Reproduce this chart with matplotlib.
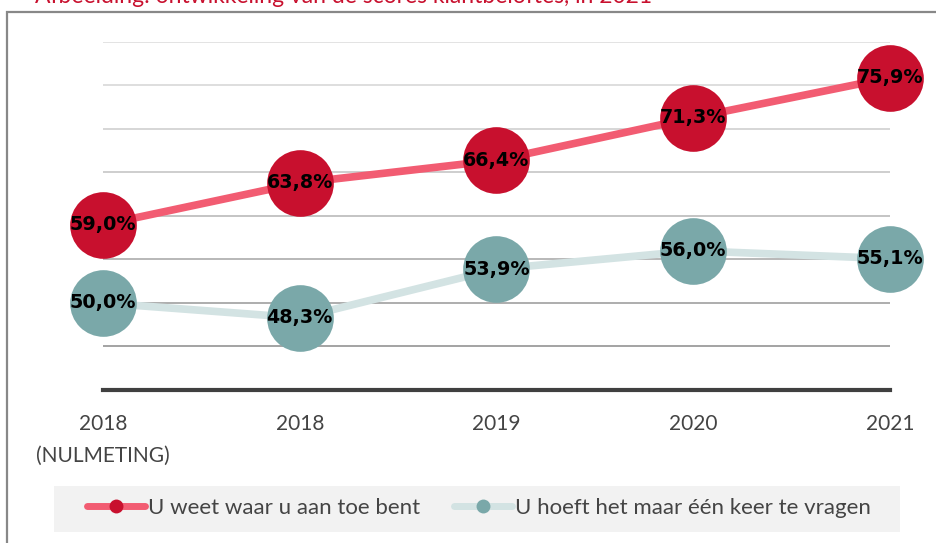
import numpy as np
import matplotlib.pyplot as plt
from matplotlib.patches import Rectangle
from matplotlib.lines import Line2D

# --- gegevens ---
jaren = ["2018\n(NULMETING)", "2018", "2019", "2020", "2021"]
weet_waar = [59.0, 63.8, 66.4, 71.3, 75.9]
een_keer = [50.0, 48.3, 53.9, 56.0, 55.1]
reeks_namen = ["U weet waar u aan toe bent", "U hoeft het maar één keer te vragen"]
titel = "Afbeelding: ontwikkeling van de scores klantbeloftes, in 2021"

ROOD = "#c8102e"
ROOD_LIJN = "#f25c72"
TEAL = "#7aa8a9"
TEAL_LIJN = "#d3e3e3"
TEKST = "#444444"
FONT = "Lato"

fig = plt.figure(figsize=(9.37, 5.43), dpi=100)

# kader rond de figuur
fig.patches.append(Rectangle((7 / 937, -0.05), 1.0, (543 - 12) / 543 + 0.05,
                             transform=fig.transFigure, fill=False,
                             edgecolor="#888888", linewidth=1.6))
fig.text(35 / 937, (543 - 3) / 543, titel, color=ROOD, fontsize=16.5,
         family=FONT, va="baseline", ha="left")

ax = fig.add_axes([103 / 937, 153 / 543, (890 - 103) / 937, (390 - 42) / 543])
x = np.arange(len(jaren))
ax.set_xlim(0, len(jaren) - 1)
ax.set_ylim(40, 80)

# rasterlijnen, naar onderen donkerder
grid_vals = [80, 75, 70, 65, 60, 55, 50, 45]
grid_cols = ["#e3e3e3", "#dedede", "#d6d6d6", "#cecece", "#c4c4c4", "#b8b8b8", "#adadad", "#a3a3a3"]
for v, c in zip(grid_vals, grid_cols):
    ax.axhline(v, color=c, linewidth=1.4, zorder=0)
ax.axhline(40, color="#404040", linewidth=3, zorder=1, clip_on=False)

for s in ax.spines.values():
    s.set_visible(False)
ax.set_yticks([])
ax.set_xticks(x)
ax.set_xticklabels(jaren, fontsize=15, family=FONT, color=TEKST, linespacing=1.75)
ax.tick_params(axis="x", length=0, pad=17)

def teken(waarden, lijnkleur, puntkleur):
    ax.plot(x, waarden, color=lijnkleur, linewidth=5.5, zorder=2,
            solid_capstyle="round", clip_on=False)
    ax.plot(x, waarden, linestyle="none", marker="o", markersize=48,
            markerfacecolor=puntkleur, markeredgewidth=0, zorder=3, clip_on=False)
    for xi, v in zip(x, waarden):
        ax.text(xi, v, f"{v:.1f}%".replace(".", ","), ha="center", va="center",
                fontsize=13.8, fontweight="bold", color="black", zorder=4,
                family="DejaVu Sans")

teken(een_keer, TEAL_LIJN, TEAL)
teken(weet_waar, ROOD_LIJN, ROOD)

# legenda
fig.patches.append(Rectangle((54 / 937, (543 - 532) / 543), (900 - 54) / 937, 46 / 543,
                             transform=fig.transFigure, facecolor="#f2f2f2",
                             edgecolor="none", zorder=0))
handles = [
    Line2D([], [], color=ROOD_LIJN, linewidth=5, marker="o", markersize=10,
           markerfacecolor=ROOD, markeredgewidth=0, solid_capstyle="round"),
    Line2D([], [], color=TEAL_LIJN, linewidth=5, marker="o", markersize=10,
           markerfacecolor=TEAL, markeredgewidth=0, solid_capstyle="round"),
]
fig.legend(handles, reeks_namen, loc="center", bbox_to_anchor=(479 / 937, (543 - 508) / 543),
           ncol=2, frameon=False, handlelength=2.6, handletextpad=0.15,
           columnspacing=1.5, prop={"family": FONT, "size": 16}, labelcolor=TEKST)

fig.savefig("out.png", dpi=100)
